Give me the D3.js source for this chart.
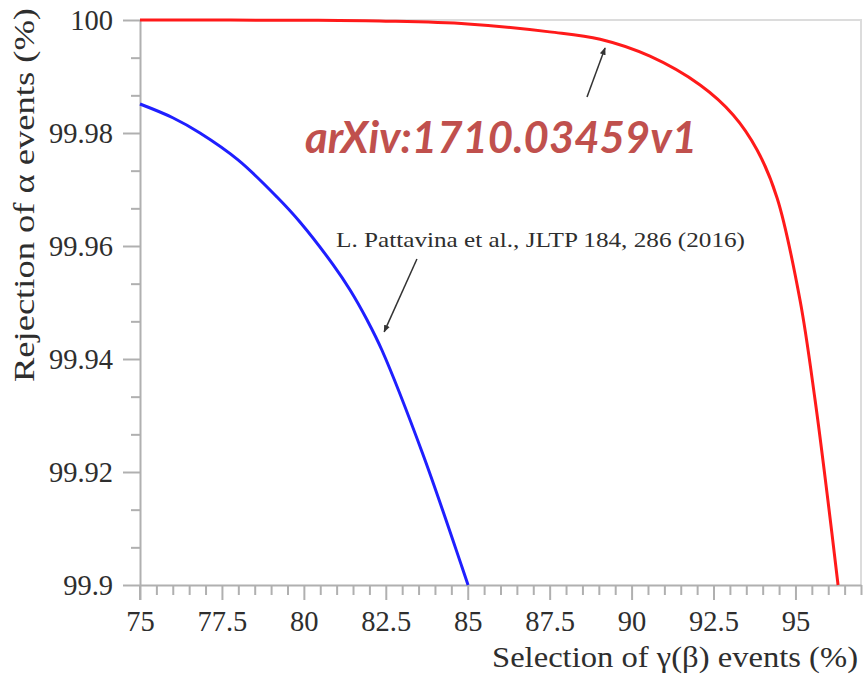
<!DOCTYPE html>
<html>
<head>
<meta charset="utf-8">
<script src="https://cdn.jsdelivr.net/npm/d3@7"></script>
<style>
  html, body { margin: 0; padding: 0; background: #fff; }
  svg { display: block; }
</style>
</head>
<body>
<svg id="chart" width="865" height="685"></svg>
<script>
// ---- data ----
const redX = [75, 80, 82.5, 85, 87.5, 89.04, 90.56, 92.09, 93.1, 93.83, 94.44, 95.14, 95.6, 95.99, 96.3];
const redY = [100, 99.99995, 99.9998, 99.9993, 99.9979, 99.9966, 99.9936, 99.9885, 99.9832, 99.977, 99.9685, 99.9504, 99.9327, 99.915, 99.9];
const blueX = [75, 76, 76.83, 78, 79.18, 79.88, 80.89, 81.41, 81.93, 82.38, 83.64, 84.83, 85.01];
const blueY = [99.98513, 99.9827, 99.98, 99.9752, 99.96867, 99.96425, 99.9567, 99.95221, 99.9469, 99.94159, 99.92301, 99.9031, 99.9];
const xTicks = [75, 77.5, 80, 82.5, 85, 87.5, 90, 92.5, 95];
const xTickLabels = ["75", "77.5", "80", "82.5", "85", "87.5", "90", "92.5", "95"];
const yTicks = [99.9, 99.92, 99.94, 99.96, 99.98, 100];
const yTickLabels = ["99.9", "99.92", "99.94", "99.96", "99.98", "100"];
const xTitle = "Selection of γ(β) events (%)";
const yTitle = "Rejection of α events (%)";
const refNote = "L. Pattavina et al., JLTP 184, 286 (2016)";
const arxivNote = "arXiv:1710.03459v1";
// annotation arrows in data coordinates: [fromX, fromY, toX, toY]
const blueArrow = [83.45, 99.9577, 82.45, 99.9448];
const redArrow = [88.64, 99.98637, 89.19, 99.99504];

// ---- layout ----
const svg = d3.select("#chart");
const L = 140, R = 861, T = 20, B = 585;
const x = d3.scaleLinear().domain([75, 97]).range([L, R]);
const y = d3.scaleLinear().domain([99.9, 100]).range([B, T]);
const serif = "'Liberation Serif', 'DejaVu Serif', serif";
const axisCol = "#b0b0b0";
const textCol = "#2e2e2e";

// frame (top & right)
svg.append("path")
  .attr("d", `M${L},${T}H${R}V${B}`)
  .attr("fill", "none").attr("stroke", "#dcdcdc").attr("stroke-width", 2);

// x axis
const xMinor = d3.range(75, 97.001, 0.5).filter(v => !xTicks.some(t => Math.abs(t - v) < 1e-6));
const gx = svg.append("g").attr("transform", `translate(0,${B})`);
gx.call(d3.axisBottom(x).tickValues(xMinor).tickSize(10).tickFormat(""));
gx.call(g => g.selectAll("path.domain").remove());
const gx2 = svg.append("g").attr("transform", `translate(0,${B})`);
gx2.call(d3.axisBottom(x).tickValues(xTicks).tickSize(15).tickSizeOuter(0).tickPadding(11)
  .tickFormat((d, i) => xTickLabels[i]));
[gx, gx2].forEach(g => {
  g.selectAll("line").attr("stroke", axisCol).attr("stroke-width", 2);
  g.selectAll("path.domain").attr("stroke", axisCol).attr("stroke-width", 2);
  g.selectAll("text").attr("font-family", serif).attr("font-size", 28.5).attr("fill", textCol);
});

// y axis
const yMinor = d3.range(0, 16).map(i => 99.9 + i * 0.02 / 3).filter(v => !yTicks.some(t => Math.abs(t - v) < 1e-6));
const gy = svg.append("g").attr("transform", `translate(${L},0)`);
gy.call(d3.axisLeft(y).tickValues(yMinor).tickSize(9).tickFormat(""));
gy.call(g => g.selectAll("path.domain").remove());
const gy2 = svg.append("g").attr("transform", `translate(${L},0)`);
gy2.call(d3.axisLeft(y).tickValues(yTicks).tickSize(17).tickSizeOuter(0).tickPadding(10)
  .tickFormat((d, i) => yTickLabels[i]));
[gy, gy2].forEach(g => {
  g.selectAll("line").attr("stroke", axisCol).attr("stroke-width", 2);
  g.selectAll("path.domain").attr("stroke", axisCol).attr("stroke-width", 2);
  g.selectAll("text").attr("font-family", serif).attr("font-size", 28.5).attr("fill", textCol);
});
// extend y-axis line down to the 75 tick length
svg.append("line").attr("x1", L).attr("x2", L).attr("y1", B).attr("y2", B + 15)
  .attr("stroke", axisCol).attr("stroke-width", 2);

// curves
const line = d3.line().x(d => x(d[0])).y(d => y(d[1])).curve(d3.curveCatmullRom.alpha(0.5));
svg.append("path").datum(blueX.map((v, i) => [v, blueY[i]]))
  .attr("d", line).attr("fill", "none").attr("stroke", "#1f1fff").attr("stroke-width", 3);
svg.append("path").datum(redX.map((v, i) => [v, redY[i]]))
  .attr("d", line).attr("fill", "none").attr("stroke", "#ff1a1a").attr("stroke-width", 3);

// titles
svg.append("text").attr("x", 492).attr("y", 667)
  .attr("textLength", 366).attr("lengthAdjust", "spacingAndGlyphs")
  .attr("font-family", serif).attr("font-size", 29).attr("fill", textCol).text(xTitle);
svg.append("text").attr("transform", "translate(34,382) rotate(-90)")
  .attr("textLength", 374).attr("lengthAdjust", "spacingAndGlyphs")
  .attr("font-family", serif).attr("font-size", 29).attr("fill", textCol).text(yTitle);

// annotations
const defs = svg.append("defs");
defs.append("marker").attr("id", "ah").attr("viewBox", "0 0 10 10").attr("refX", 9).attr("refY", 5)
  .attr("markerWidth", 5).attr("markerHeight", 5).attr("orient", "auto")
  .append("path").attr("d", "M0,1L10,5L0,9Z").attr("fill", "#333");

svg.append("text").attr("x", 336).attr("y", 247)
  .attr("textLength", 409).attr("lengthAdjust", "spacingAndGlyphs")
  .attr("font-family", serif).attr("font-size", 22).attr("fill", textCol).text(refNote);
[blueArrow, redArrow].forEach(a => {
  svg.append("line").attr("x1", x(a[0])).attr("y1", y(a[1])).attr("x2", x(a[2])).attr("y2", y(a[3]))
    .attr("stroke", "#333").attr("stroke-width", 1.5).attr("marker-end", "url(#ah)");
});
svg.append("text").attr("x", 305).attr("y", 153)
  .attr("textLength", 392).attr("lengthAdjust", "spacingAndGlyphs")
  .attr("font-family", "Lato, 'Liberation Sans', sans-serif").attr("font-weight", "bold").attr("font-style", "italic")
  .attr("font-size", 43).attr("fill", "#c0504d").text(arxivNote);
</script>
</body>
</html>
